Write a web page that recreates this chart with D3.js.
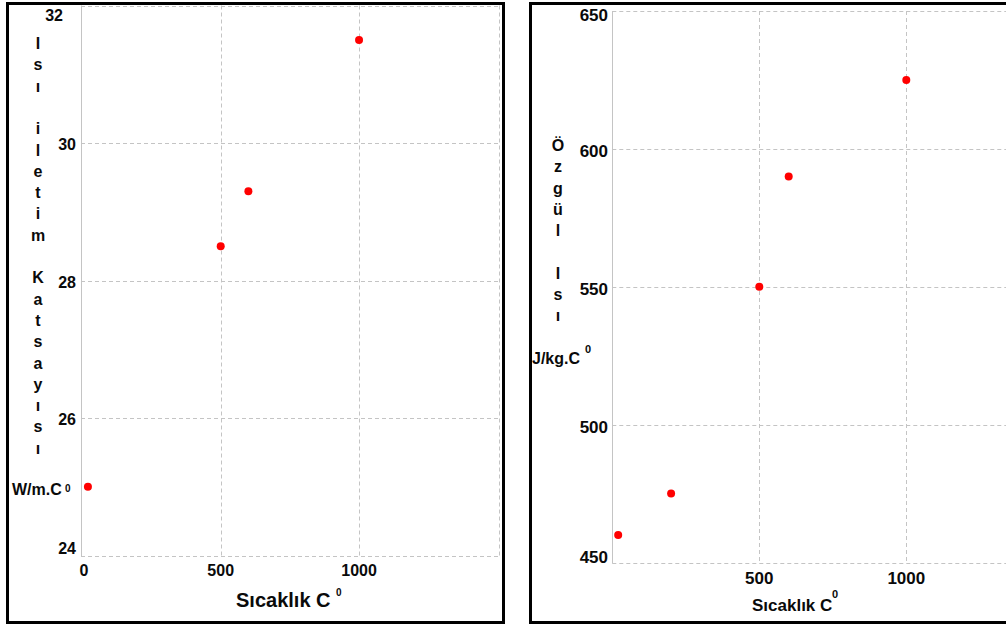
<!DOCTYPE html>
<html>
<head>
<meta charset="utf-8">
<script src="https://cdn.jsdelivr.net/npm/d3@7"></script>
<style>
  html, body { margin: 0; padding: 0; background: #fff; }
  svg text { font-family: "Liberation Sans", Arial, sans-serif; font-weight: bold; fill: #0a0a0a; }
</style>
</head>
<body>
<svg id="chart" width="1006" height="625"></svg>
<script>
// Thermal conductivity vs temperature
const condTemps  = [20, 500, 600, 1000];
const condValues = [25, 28.5, 29.3, 31.5];
const condYTicks = [24, 26, 28, 30, 32];
const condXTicks = [0, 500, 1000];

// Specific heat vs temperature
const heatTemps  = [20, 200, 500, 600, 1000];
const heatValues = [460, 475, 550, 590, 625];
const heatYTicks = [450, 500, 550, 600, 650];
const heatXTicks = [500, 1000];

const condTitle = "Isı iletim Katsayısı";
const heatTitle = "Özgül Isı";
const xTitle = "Sıcaklık C";

const svg = d3.select("#chart");
const gridColor = "#c4c4c4";

function panel(cfg) {
  const g = svg.append("g");
  const x = d3.scaleLinear().domain(cfg.xDomain).range(cfg.xRange);
  const y = d3.scaleLinear().domain(cfg.yDomain).range(cfg.yRange);
  const [x0, x1] = cfg.xRange;
  const [yb, yt] = cfg.yRange;

  // horizontal grid
  g.selectAll(".hgrid").data(cfg.yTicks).join("line")
    .attr("x1", x0).attr("x2", x1)
    .attr("y1", d => Math.round(y(d)) + 0.5).attr("y2", d => Math.round(y(d)) + 0.5)
    .attr("stroke", gridColor).attr("stroke-dasharray", "4,3");
  // vertical grid
  g.selectAll(".vgrid").data(cfg.xGrid).join("line")
    .attr("x1", d => Math.round(x(d)) + 0.5).attr("x2", d => Math.round(x(d)) + 0.5)
    .attr("y1", yt).attr("y2", yb)
    .attr("stroke", gridColor).attr("stroke-dasharray", "4,3");
  // left axis line
  g.append("line")
    .attr("x1", Math.round(x0) + 0.5).attr("x2", Math.round(x0) + 0.5)
    .attr("y1", yt).attr("y2", yb + 1)
    .attr("stroke", gridColor);

  // y tick labels
  g.selectAll(".ylab").data(cfg.yTicks).join("text")
    .attr("text-anchor", "end")
    .attr("font-size", cfg.tickSize)
    .attr("x", d => (d === cfg.yDomain[1] && cfg.topLabelX) ? cfg.topLabelX : cfg.yLabelX)
    .attr("y", d => Math.min(Math.max(y(d) + cfg.yLabelDy, cfg.yLabelMin), cfg.yLabelMax))
    .attr("dy", "0.36em")
    .text(d => d);

  // x tick labels
  g.selectAll(".xlab").data(cfg.xTicks).join("text")
    .attr("text-anchor", "middle")
    .attr("font-size", cfg.tickSize)
    .attr("x", d => x(d) + (d === 0 ? 1.5 : 0))
    .attr("y", cfg.xLabelY)
    .attr("dy", "0.36em")
    .text(d => d);

  // points
  g.selectAll(".pt").data(cfg.xs.map((v, i) => [v, cfg.ys[i]])).join("circle")
    .attr("cx", d => x(d[0])).attr("cy", d => y(d[1]))
    .attr("r", 4).attr("fill", "#ff0000");

  // vertical stacked y title
  const letters = Array.from(cfg.yTitle);
  g.selectAll(".ytitle").data(letters).join("text")
    .attr("text-anchor", "middle")
    .attr("font-size", cfg.titleSize)
    .attr("x", cfg.yTitleX)
    .attr("y", (d, i) => cfg.yTitleY + i * 21.3)
    .text(d => d);

  // unit label
  g.append("text")
    .attr("font-size", cfg.titleSize)
    .attr("x", cfg.unitX).attr("y", cfg.unitY)
    .text(cfg.unit);
  g.append("text")
    .attr("font-size", cfg.supSize)
    .attr("x", cfg.unitSupX).attr("y", cfg.unitSupY)
    .text("0");

  // x title
  g.append("text")
    .attr("text-anchor", "start")
    .attr("font-size", cfg.xTitleSize)
    .attr("x", cfg.xTitleX).attr("y", cfg.xTitleY)
    .text(xTitle);
  g.append("text")
    .attr("font-size", cfg.supSize)
    .attr("x", cfg.xSupX).attr("y", cfg.xSupY)
    .text("0");

  return g;
}

// frames
svg.append("rect")
  .attr("x", 7.5).attr("y", 3.5).attr("width", 496).attr("height", 619)
  .attr("fill", "none").attr("stroke", "#000").attr("stroke-width", 3);
svg.append("rect")
  .attr("x", 530.5).attr("y", 3.5).attr("width", 520).attr("height", 619)
  .attr("fill", "none").attr("stroke", "#000").attr("stroke-width", 3);

panel({
  xDomain: [-5, 1507], xRange: [81, 499.3],
  yDomain: [24, 32], yRange: [555.5, 5.5],
  xGrid: [500, 1000, 1507],
  yTicks: condYTicks, xTicks: condXTicks,
  xs: condTemps, ys: condValues,
  tickSize: 16, yLabelX: 76, topLabelX: 63, yLabelDy: 1.5, yLabelMin: 15, yLabelMax: 548,
  xLabelY: 570,
  yTitle: condTitle, yTitleX: 38, yTitleY: 49, titleSize: 16,
  unit: "W/m.C", unitX: 12, unitY: 495, unitSupX: 65, unitSupY: 492, supSize: 10,
  xTitleSize: 20, xTitleX: 236, xTitleY: 607, xSupX: 336, xSupY: 596
});

panel({
  xDomain: [0, 1500], xRange: [612.3, 1053.3],
  yDomain: [450, 650], yRange: [562.5, 11],
  xGrid: [500, 1000],
  yTicks: heatYTicks, xTicks: heatXTicks,
  xs: heatTemps, ys: heatValues,
  tickSize: 17, yLabelX: 608, topLabelX: null, yLabelDy: 2, yLabelMin: 15, yLabelMax: 557,
  xLabelY: 578,
  yTitle: heatTitle, yTitleX: 558, yTitleY: 151, titleSize: 16,
  unit: "J/kg.C", unitX: 532, unitY: 364, unitSupX: 585, unitSupY: 353, supSize: 11,
  xTitleSize: 17, xTitleX: 752, xTitleY: 611, xSupX: 832, xSupY: 598
});
</script>
</body>
</html>
